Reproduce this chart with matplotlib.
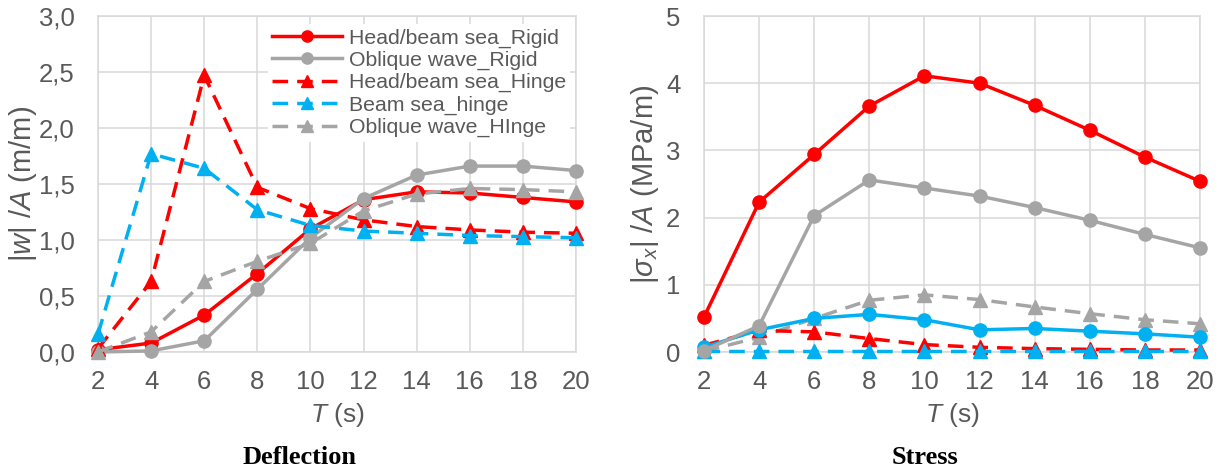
import matplotlib
matplotlib.use("Agg")
import matplotlib.pyplot as plt
from matplotlib.ticker import FuncFormatter

plt.rcParams['font.family'] = ['Liberation Sans', 'DejaVu Sans']
plt.rcParams['mathtext.fontset'] = 'custom'
plt.rcParams['mathtext.rm'] = 'Liberation Sans'
plt.rcParams['mathtext.it'] = 'Liberation Sans:italic'
plt.rcParams['mathtext.bf'] = 'Liberation Sans:bold'

# Wave period (s)
periods = [2, 4, 6, 8, 10, 12, 14, 16, 18, 20]

# Deflection |w|/A (m/m)
defl_head_rigid = [0.02, 0.08, 0.33, 0.70, 1.10, 1.36, 1.43, 1.42, 1.38, 1.34]
defl_obl_rigid = [0.00, 0.01, 0.10, 0.56, 1.02, 1.37, 1.58, 1.66, 1.66, 1.62]
defl_head_hinge = [0.03, 0.63, 2.47, 1.47, 1.28, 1.18, 1.12, 1.09, 1.07, 1.06]
defl_beam_hinge = [0.16, 1.77, 1.64, 1.27, 1.13, 1.08, 1.06, 1.04, 1.03, 1.02]
defl_obl_hinge = [0.00, 0.18, 0.63, 0.81, 0.97, 1.26, 1.41, 1.46, 1.45, 1.43]

# Stress |sigma_x|/A (MPa/m)
str_head_rigid = [0.52, 2.23, 2.94, 3.66, 4.11, 4.00, 3.67, 3.30, 2.90, 2.54]
str_obl_rigid = [0.02, 0.39, 2.03, 2.56, 2.44, 2.32, 2.15, 1.96, 1.75, 1.55]
str_beam_rigid = [0.07, 0.33, 0.50, 0.56, 0.48, 0.33, 0.35, 0.31, 0.27, 0.22]
str_obl_hinge = [0.01, 0.22, 0.50, 0.77, 0.85, 0.78, 0.67, 0.57, 0.48, 0.42]
str_head_hinge = [0.10, 0.32, 0.30, 0.20, 0.11, 0.07, 0.05, 0.04, 0.03, 0.03]
str_beam_hinge = [0.01, 0.01, 0.01, 0.01, 0.01, 0.01, 0.01, 0.01, 0.01, 0.01]

legend_labels = ["Head/beam sea_Rigid", "Oblique wave_Rigid", "Head/beam sea_Hinge",
                 "Beam sea_hinge", "Oblique wave_HInge"]

RED = '#FF0000'
GREY = '#A5A5A5'
BLUE = '#00B0F0'
TXT = '#595959'
GRID = '#D9D9D9'
LW = 2.5
MS = 9.5
DASH = (4.5, 2.6)

W, H = 1225, 471
fig = plt.figure(figsize=(W / 100, H / 100), dpi=100)


def px_axes(x0, x1, y0, y1):
    return fig.add_axes([x0 / W, 1 - y1 / H, (x1 - x0) / W, (y1 - y0) / H])


ax1 = px_axes(98, 576, 16, 352)
ax2 = px_axes(704, 1200, 16, 352)


def style(ax):
    ax.set_xlim(2, 20)
    ax.set_xticks(periods)
    ax.grid(True, color=GRID, linewidth=1.1, zorder=0)
    ax.set_axisbelow(True)
    for s in ax.spines.values():
        s.set_color(GRID)
        s.set_linewidth(1.1)
    ax.tick_params(length=0, labelsize=18.5, colors=TXT)
    ax.tick_params(axis='y', pad=17)
    ax.tick_params(axis='x', pad=13)


def solid(ax, y, c, label=None):
    ax.plot(periods, y, color=c, lw=LW, marker='o', ms=MS, label=label,
            clip_on=False, zorder=3)


def dashed(ax, y, c, label=None):
    ax.plot(periods, y, color=c, lw=LW, ls=(0, DASH), marker='^', ms=MS,
            label=label, clip_on=False, zorder=3)


# Deflection panel
style(ax1)
ax1.set_ylim(0, 3.0)
ax1.set_yticks([0, 0.5, 1.0, 1.5, 2.0, 2.5, 3.0])
ax1.yaxis.set_major_formatter(FuncFormatter(lambda v, p: f"{v:.1f}".replace('.', ',')))
solid(ax1, defl_head_rigid, RED, legend_labels[0])
solid(ax1, defl_obl_rigid, GREY, legend_labels[1])
dashed(ax1, defl_head_hinge, RED, legend_labels[2])
dashed(ax1, defl_beam_hinge, BLUE, legend_labels[3])
dashed(ax1, defl_obl_hinge, GREY, legend_labels[4])

leg = ax1.legend(loc='upper left', bbox_to_anchor=(268 / W, 1 - 24 / H),
                 bbox_transform=fig.transFigure, fontsize=15.3, frameon=True,
                 fancybox=False, edgecolor='none', facecolor='white', framealpha=1,
                 borderpad=0.2, borderaxespad=0, handlelength=3.3,
                 handletextpad=0.3, labelspacing=0.15, numpoints=1, markerscale=0.85)
for t in leg.get_texts():
    t.set_color(TXT)
leg.set_zorder(5)

ax1.set_xlabel(r'$T$ (s)', fontsize=19, color=TXT)
ax1.xaxis.set_label_coords(0.5, -(415 - 352) / 336)
ax1.xaxis.label.set_va('center')
ax1.set_ylabel(r'|$w$| /$A$ (m/m)', fontsize=21, color=TXT)
ax1.yaxis.set_label_coords((23 - 98) / 478, 0.5)
ax1.yaxis.label.set_va('center')

# Stress panel
style(ax2)
ax2.set_ylim(0, 5)
ax2.set_yticks([0, 1, 2, 3, 4, 5])
dashed(ax2, str_obl_hinge, GREY)
dashed(ax2, str_head_hinge, RED)
dashed(ax2, str_beam_hinge, BLUE)
solid(ax2, str_beam_rigid, BLUE)
solid(ax2, str_obl_rigid, GREY)
solid(ax2, str_head_rigid, RED)

ax2.set_xlabel(r'$T$ (s)', fontsize=19, color=TXT)
ax2.xaxis.set_label_coords(0.5, -(415 - 352) / 336)
ax2.xaxis.label.set_va('center')
ax2.set_ylabel(r'|$\sigma_x$| /$A$ (MPa/m)', fontsize=21, color=TXT)
ax2.yaxis.set_label_coords((645 - 704) / 496, 0.5)
ax2.yaxis.label.set_va('center')

# Panel captions
fig.text(300 / W, 1 - 458 / H, 'Deflection', ha='center', va='center',
         family='Liberation Serif', weight='bold', fontsize=19, color='black')
fig.text(925 / W, 1 - 458 / H, 'Stress', ha='center', va='center',
         family='Liberation Serif', weight='bold', fontsize=19, color='black')

fig.savefig('out.png', dpi=100)
